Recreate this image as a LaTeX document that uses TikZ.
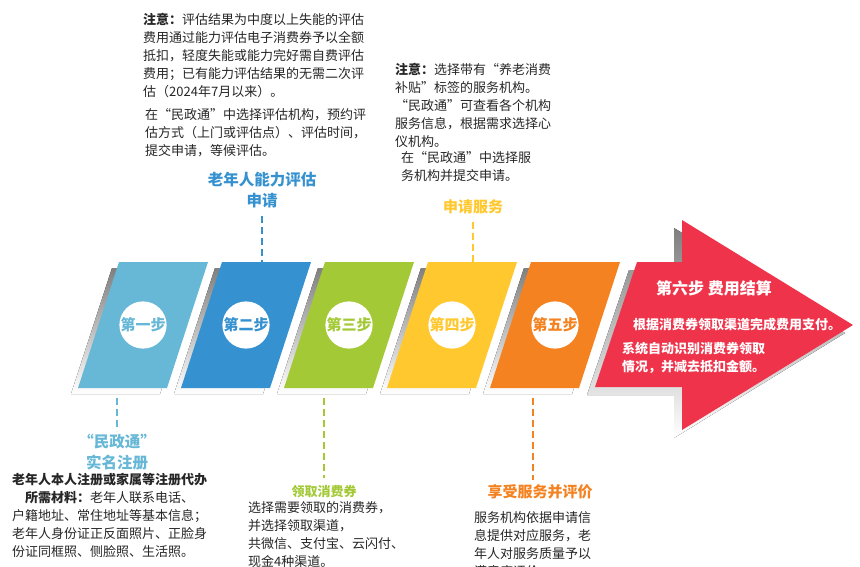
\documentclass[tikz,border=0pt]{standalone}
\usepackage{fontspec}
\newfontfamily\cjk{Noto Sans CJK SC}
\usetikzlibrary{positioning}
\definecolor{stepa}{HTML}{67B7D6}
\definecolor{stepb}{HTML}{3591CF}
\definecolor{stepc}{HTML}{A3C936}
\definecolor{stepd}{HTML}{FFC82E}
\definecolor{stepe}{HTML}{F48220}
\definecolor{stepf}{HTML}{EE334A}
\definecolor{shade}{HTML}{ABABAB}
\begin{document}
\begin{tikzpicture}[
    x=1pt, y=-1pt,
    body/.style={font=\cjk\fontsize{13}{18}\selectfont, align=left, inner sep=0pt, anchor=north west, text=black!85},
    title/.style={font=\cjk\bfseries\fontsize{15.5}{21}\selectfont, align=center, inner sep=0pt},
    small title/.style={font=\cjk\bfseries\fontsize{15}{18}\selectfont, align=center, inner sep=0pt},
    badge/.style={circle, fill=white, minimum size=46pt, inner sep=0pt, font=\cjk\bfseries\fontsize{15}{15}\selectfont},
    guide/.style={line width=1.6pt, dash pattern=on 7pt off 4pt},
    white text/.style={font=\cjk\bfseries\fontsize{13}{18}\selectfont, text=white, align=left, inner sep=0pt}
]
\clip (0,0) rectangle (860,566);

% Steps one to five
\foreach \i/\c/\t in {0/stepa/第一步, 1/stepb/第二步, 2/stepc/第三步, 3/stepd/第四步, 4/stepe/第五步}{
  \pgfmathsetmacro\xo{119+103*\i}
  \fill[shade] (\xo-7,268) -- (\xo+82,268) -- (\xo+41,394) -- (\xo-48,394) -- cycle;
  \fill[\c] (\xo,262) -- (\xo+89,262) -- (\xo+48,388) -- (\xo-41,388) -- cycle;
  \node[badge, text=\c] (s\i) at (\xo+24,325) {\t};
}

% Step six arrow
\fill[shade] (629,270) -- (674,270) -- (674,228) -- (845,333) -- (674,438) -- (674,395) -- (587,395) -- cycle;
\fill[stepf] (637,262) -- (682,262) -- (682,220) -- (853,325) -- (682,430) -- (682,387) -- (595,387) -- cycle;
\node[white text, font=\cjk\bfseries\fontsize{16}{18}\selectfont] (s5) at (714,288) {第六步 费用结算};
\node[white text] (pay) at (737,325) {根据消费券领取渠道完成费用支付。};
\node[white text, anchor=north west] (deduct) at (622,342) {系统自动识别消费券领取\\情况，并减去抵扣金额。};

% Upper notes
\node[body] (notea) at (143,13) {\textbf{注意：}评估结果为中度以上失能的评估\\费用通过能力评估电子消费券予以全额\\抵扣，轻度失能或能力完好需自费评估\\费用；已有能力评估结果的无需二次评\\估（2024年7月以来）。};
\node[body] (booka) at (145,108) {在“民政通”中选择评估机构，预约评\\估方式（上门或评估点）、评估时间，\\提交申请，等候评估。};
\node[title, text=stepb] (tb) at (262,190) {老年人能力评估\\申请};
\coordinate (cb) at (262,216);
\draw[guide, stepb] (cb) -- (262,262);

\node[body] (noted) at (395,63) {\textbf{注意：}选择带有“养老消费\\补贴”标签的服务机构。\\“民政通”可查看各个机构\\服务信息，根据需求选择心\\仪机构。};
\node[body] (bookd) at (401,151) {在“民政通”中选择服\\务机构并提交申请。};
\node[small title, text=stepd] (td) at (473,207) {申请服务};
\coordinate (cd) at (473,222);
\draw[guide, stepd] (cd) -- (473,262);

% Lower notes
\coordinate (ca) at (117,398);
\node[title, text=stepa] (ta) at (117,452) {“民政通”\\实名注册};
\draw[guide, stepa] (ca) -- (117,431);
\node[body] (reg) at (12,473) {\textbf{老年人本人注册或家属等注册代办}\\\hspace*{13pt}\textbf{所需材料：}老年人联系电话、\\户籍地址、常住地址等基本信息；\\老年人身份证正反面照片、正脸身\\份证同框照、侧脸照、生活照。};

\coordinate (cc) at (324,398);
\node[small title, text=stepc, font=\cjk\bfseries\fontsize{13}{18}\selectfont] (tc) at (324,492) {领取消费券};
\draw[guide, stepc] (cc) -- (324,478);
\node[body] (coupon) at (248,501) {选择需要领取的消费券，\\并选择领取渠道，\\共微信、支付宝、云闪付、\\现金4种渠道。};

\coordinate (ce) at (533,398);
\node[small title, text=stepe] (te) at (540,492) {享受服务并评价};
\draw[guide, stepe] (ce) -- (533,480);
\node[body] (serve) at (474,511) {服务机构依据申请信\\息提供对应服务，老\\年人对服务质量予以\\满意度评价。};
\end{tikzpicture}
\end{document}
